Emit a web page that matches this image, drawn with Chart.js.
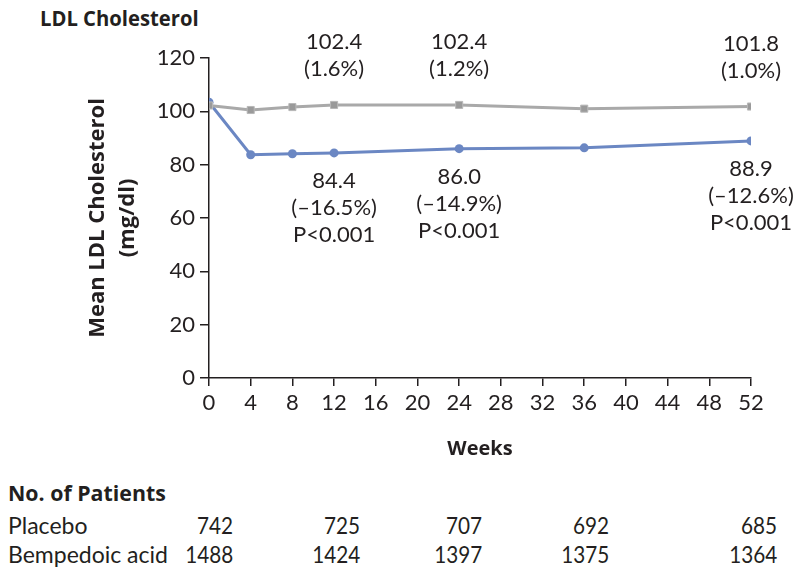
<!DOCTYPE html>
<html>
<head>
<meta charset="utf-8">
<title>LDL Cholesterol</title>
<script src="https://cdn.jsdelivr.net/npm/chart.js@4"></script>
<style>
  body { margin: 0; background: #fff; width: 800px; height: 570px; overflow: hidden; position: relative; color: #231f20; }
  #wrap { position: absolute; left: 0; top: 0; width: 800px; height: 470px; }
  .bold { font-family: "Open Sans", sans-serif; font-weight: 700; position: absolute; white-space: nowrap; transform-origin: left center; }
  .cell { font-family: Lato, sans-serif; font-size: 23px; position: absolute; white-space: nowrap; line-height: 26px; }
  .num { transform: scaleX(0.9); transform-origin: right center; }
</style>
</head>
<body>
<div class="bold" style="left:40px; top:2px; font-size:22px; transform:scaleX(0.92);">LDL Cholesterol</div>
<div id="wrap"><canvas id="chart"></canvas></div>
<div class="bold" style="left:8px; top:477px; font-size:22px; transform:scaleX(0.97);">No. of Patients</div>
<div id="table"></div>

<script>
// Chart data
const weeks = [0, 4, 8, 12, 24, 36, 52];
const placebo = [102.2, 100.5, 101.6, 102.4, 102.4, 101.0, 101.8];
const bempedoic = [103.4, 83.7, 84.1, 84.4, 86.0, 86.3, 88.9];

// Labels printed next to the points
const labelWeeks = [12, 24, 52];
const placeboMeans = ['102.4', '102.4', '101.8'];
const placeboChange = ['(1.6%)', '(1.2%)', '(1.0%)'];
const bempedoicMeans = ['84.4', '86.0', '88.9'];
const bempedoicChange = ['(\u201316.5%)', '(\u201314.9%)', '(\u201312.6%)'];
const pValue = 'P<0.001';

// Number at risk table
const rowNames = ['Placebo', 'Bempedoic acid'];
const placeboN = [742, 725, 707, 692, 685];
const bempedoicN = [1488, 1424, 1397, 1375, 1364];

const TEXT = '#231f20';
const BLUE = '#6b87c3';
const GREY = '#a9a9a9';
const FONT = 'Lato, sans-serif';

// Build the patients table below the chart
function buildTable() {
    const table = document.getElementById('table');
    const rightEdges = [233, 360, 482, 609, 777];
    const rows = [placeboN, bempedoicN];
    rows.forEach((vals, r) => {
        const top = 512 + r * 29;
        const name = document.createElement('div');
        name.className = 'cell';
        name.style.left = '8px';
        name.style.top = top + 'px';
        name.textContent = rowNames[r];
        table.appendChild(name);
        vals.forEach((v, i) => {
            const d = document.createElement('div');
            d.className = 'cell num';
            d.style.right = (800 - rightEdges[i]) + 'px';
            d.style.top = top + 'px';
            d.textContent = v;
            table.appendChild(d);
        });
    });
}

// Draw the value labels above and below the lines
const pointLabels = {
    id: 'pointLabels',
    afterDatasetsDraw(chart) {
        const ctx = chart.ctx;
        const xs = chart.scales.x;
        const ys = chart.scales.y;
        ctx.save();
        ctx.fillStyle = TEXT;
        ctx.font = '22px ' + FONT;
        ctx.textAlign = 'center';
        ctx.textBaseline = 'middle';
        labelWeeks.forEach((w, i) => {
            const x = xs.getPixelForValue(w);
            const idx = weeks.indexOf(w);
            const py = ys.getPixelForValue(placebo[idx]);
            ctx.fillText(placeboMeans[i], x, py - 63);
            ctx.fillText(placeboChange[i], x, py - 36);
            const by = ys.getPixelForValue(bempedoic[idx]);
            ctx.fillText(bempedoicMeans[i], x, by + 28);
            ctx.fillText(bempedoicChange[i], x, by + 55);
            ctx.fillText(pValue, x, by + 82);
        });
        ctx.restore();
    }
};

function initChart() {
    const ctx = document.getElementById('chart').getContext('2d');
    new Chart(ctx, {
        type: 'line',
        data: {
            datasets: [
                {
                    label: 'Placebo',
                    data: weeks.map((w, i) => ({ x: w, y: placebo[i] })),
                    borderColor: GREY,
                    backgroundColor: '#9a9a9a',
                    borderWidth: 3,
                    pointStyle: 'rect',
                    pointRadius: 5,
                    pointBorderColor: '#b8b8b8',
                    pointBorderWidth: 1,
                    tension: 0
                },
                {
                    label: 'Bempedoic acid',
                    data: weeks.map((w, i) => ({ x: w, y: bempedoic[i] })),
                    borderColor: BLUE,
                    backgroundColor: BLUE,
                    borderWidth: 3,
                    pointRadius: 4.5,
                    pointBorderWidth: 0,
                    tension: 0
                }
            ]
        },
        options: {
            responsive: true,
            maintainAspectRatio: false,
            animation: false,
            layout: { padding: { left: 0, right: 49, top: 58, bottom: 0 } },
            plugins: { legend: { display: false }, tooltip: { enabled: false } },
            scales: {
                x: {
                    type: 'linear',
                    min: 0,
                    max: 52,
                    afterFit: (s) => { s.height = 92; },
                    ticks: { stepSize: 4, color: TEXT, padding: 4, font: { family: FONT, size: 22 } },
                    grid: { drawOnChartArea: false, drawTicks: true, tickLength: 8, color: TEXT, lineWidth: 1.5 },
                    border: { display: true, color: TEXT, width: 1.5 },
                    title: { display: true, text: 'Weeks', color: TEXT, padding: { top: 8, bottom: 9 },
                             font: { family: 'Open Sans', weight: 'bold', size: 20 } }
                },
                y: {
                    min: 0,
                    max: 120,
                    afterFit: (s) => { s.width = 209; },
                    ticks: { stepSize: 20, color: TEXT, padding: 5, font: { family: FONT, size: 22 } },
                    grid: { drawOnChartArea: false, drawTicks: true, tickLength: 9, color: TEXT, lineWidth: 1.5 },
                    border: { display: true, color: TEXT, width: 1.5 },
                    title: { display: true, text: ['Mean LDL Cholesterol', '(mg/dl)'], color: TEXT,
                             padding: { top: 82, bottom: 0 },
                             font: { family: 'Open Sans', weight: 'bold', size: 22, lineHeight: 1.4 } }
                }
            }
        },
        plugins: [pointLabels]
    });
}

buildTable();
initChart();
</script>
</body>
</html>
